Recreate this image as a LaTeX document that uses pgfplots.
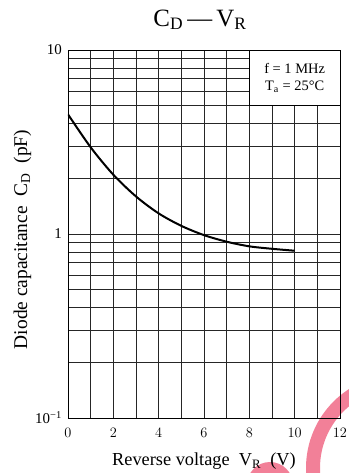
\documentclass[border=0pt]{standalone}
\usepackage{pgfplots}
\pgfplotsset{compat=1.18}
\usepackage{fontspec}
\setmainfont{Liberation Serif}
\definecolor{wm}{RGB}{242,128,152}
\begin{document}
\begin{tikzpicture}
\useasboundingbox (-68bp,-55bp) rectangle (281bp,418bp);
\begin{scope}
\clip (-68bp,-55bp) rectangle (281bp,418bp);
\draw[wm, line width=14bp] (332bp,-50bp) circle (87bp);
\fill[wm] (202bp,-67bp) circle (23bp);
\end{scope}
\begin{axis}[
  ymode=log,
  scale only axis,
  width=272bp, height=368bp,
  xmin=0, xmax=12, ymin=0.1, ymax=10,
  xtick={0,2,...,12},
  minor xtick={1,3,...,11},
  ytick={0.1,1,10},
  yticklabels={10\textsuperscript{−1},1,10},
  minor ytick={0.2,0.3,0.4,0.5,0.6,0.7,0.8,0.9,2,3,4,5,6,7,8,9},
  xmajorgrids, xminorgrids, ymajorgrids, yminorgrids,
  grid style={black!85, line width=0.6bp},
  minor grid style={black!85, line width=0.6bp},
  major tick length=0pt, minor tick length=0pt,
  axis line style={line width=0.9bp},
  ticklabel style={font=\fontsize{15}{17}\selectfont},
  xticklabel style={anchor=base, yshift=-19bp},
  yticklabel style={anchor=east, inner sep=0pt, xshift=-6bp},
  title={C\textsubscript{D}\,—\,V\textsubscript{R}},
  title style={font=\fontsize{25}{28}\selectfont, at={(0.4853,1.0489)}, anchor=base},
  xlabel={Reverse voltage\ \ V\textsubscript{R}\ \ (V)},
  xlabel style={font=\fontsize{18.4}{21}\selectfont, at={(0.5,-0.1304)}, anchor=base},
  ylabel={Diode capacitance\ \ C\textsubscript{D}\ \ (pF)},
  ylabel style={font=\fontsize{19.5}{22}\selectfont, at={(-0.1507,0.485)}, anchor=base},
]
\draw[fill=white, line width=0.9bp] (axis cs:8,5) rectangle (axis cs:12,10);
\node[align=center, font=\fontsize{14.5}{17}\selectfont] at (axis cs:10,7.07)
  {f = 1 MHz\\T\textsubscript{a} = 25°C};
\addplot[black, line width=2bp, smooth] coordinates {
  (0,4.47) (1,2.96) (2,2.10) (3,1.60) (4,1.294) (5,1.107)
  (6,0.986) (7,0.908) (8,0.857) (9,0.831) (10,0.811)
};
\end{axis}
\end{tikzpicture}
\end{document}
